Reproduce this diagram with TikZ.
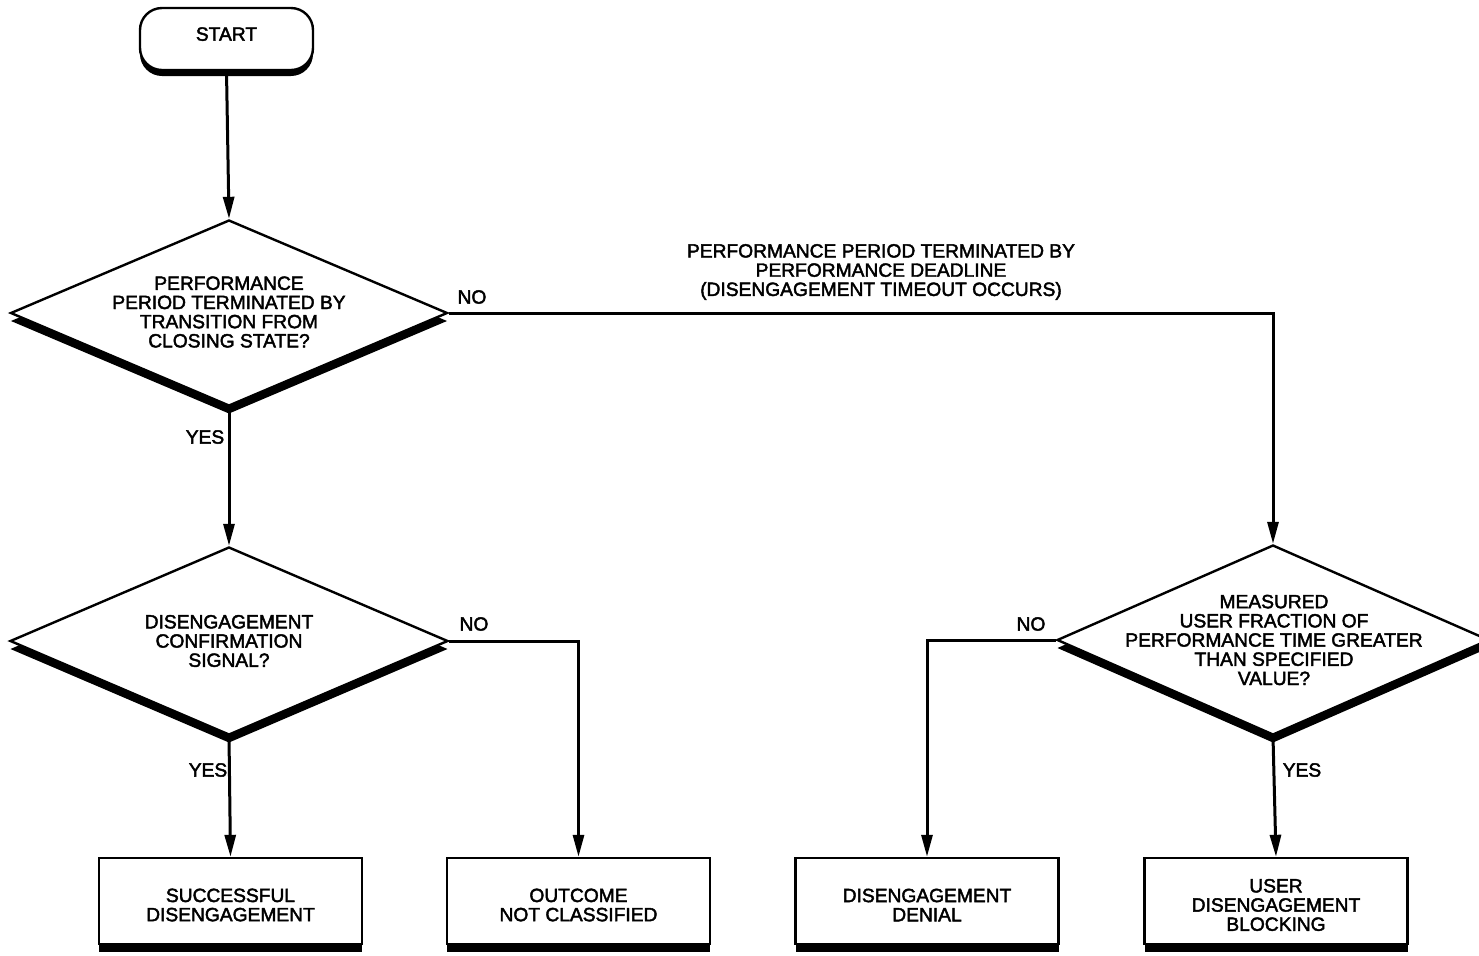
\documentclass[tikz,border=0pt]{standalone}
\usepackage{fontspec}
\setmainfont[FakeBold=2.2]{Liberation Sans}
\usetikzlibrary{shapes.geometric,shadows,arrows.meta}

\begin{document}
\begin{tikzpicture}[x=0.5pt,y=-0.5pt,
  txt/.style={font=\fontsize{9.6}{9.6}\selectfont, align=center, inner sep=0pt},
  flowline/.style={line width=1.5pt, line join=miter, -{Triangle[length=11pt,width=5.5pt]}},
  startbox/.style={draw, fill=white, line width=1.2pt, rounded corners=11pt,
    minimum width=86.5pt, minimum height=31pt, inner sep=0pt,
    font=\fontsize{9.6}{9.6}\selectfont,
    drop shadow={shadow xshift=0pt, shadow yshift=-3pt, fill=black, opacity=1}},
  decision/.style={diamond, draw, fill=white, line width=1.2pt, inner sep=0pt,
    drop shadow={shadow xshift=0pt, shadow yshift=-4pt, fill=black, opacity=1}},
  outcome/.style={rectangle, draw, fill=white, line width=1.2pt, inner sep=0pt,
    minimum width=131.5pt, minimum height=43pt,
    drop shadow={shadow xshift=0pt, shadow yshift=-4pt, fill=black, opacity=1}}]

  \useasboundingbox[fill=white] (0,0) rectangle (1479,955);

  % start terminal
  \node[startbox] (start) at (226.5,39) {\raisebox{5pt}{START}};

  % decisions
  \node[decision, minimum width=218.5pt, minimum height=93pt] (d1) at (229,313) {};
  \node[txt] (d1t) at (229,312) {PERFORMANCE\\PERIOD TERMINATED BY\\TRANSITION FROM\\CLOSING STATE?};

  \node[decision, minimum width=219pt, minimum height=94pt] (d2) at (229,641) {};
  \node[txt] (d2t) at (229,641) {DISENGAGEMENT\\CONFIRMATION\\SIGNAL?};

  \node[decision, minimum width=216pt, minimum height=95pt] (d3) at (1273,640) {};
  \node[txt] (d3t) at (1274,640) {MEASURED\\USER FRACTION OF\\PERFORMANCE TIME GREATER\\THAN SPECIFIED\\VALUE?};

  % outcomes
  \node[outcome] (b1) at (230.5,901) {};
  \node[txt] (b1t) at (230.5,905) {SUCCESSFUL\\DISENGAGEMENT};
  \node[outcome] (b2) at (578.5,901) {};
  \node[txt] (b2t) at (578.5,905) {OUTCOME\\NOT CLASSIFIED};
  \node[outcome] (b3) at (927,901) {};
  \node[txt] (b3t) at (927,905) {DISENGAGEMENT\\DENIAL};
  \node[outcome] (b4) at (1276,901) {};
  \node[txt] (b4t) at (1276,905) {USER\\DISENGAGEMENT\\BLOCKING};

  % connectors
  \draw[flowline] (start.south) -- (d1.north);
  \draw[flowline] (d1.south) -- (d2.north);
  \draw[flowline] (d1.east) -| (d3.north);
  \draw[flowline] (d2.south) -- (b1.north);
  \draw[flowline] (d2.east) -| (b2.north);
  \draw[flowline] (d3.west) -| (b3.north);
  \draw[flowline] (d3.south) -- (b4.north);

  % branch labels
  \node[txt] (l1no)  at (472,297) {NO};
  \node[txt] (l1yes) at (205,437) {YES};
  \node[txt] (l2no)  at (474,624) {NO};
  \node[txt] (l2yes) at (208,770) {YES};
  \node[txt] (l3no)  at (1031,624) {NO};
  \node[txt] (l3yes) at (1302,770) {YES};
  \node[txt] (lto) at (881,272) {PERFORMANCE PERIOD TERMINATED BY\\PERFORMANCE DEADLINE\\(DISENGAGEMENT TIMEOUT OCCURS)};
\end{tikzpicture}
\end{document}
